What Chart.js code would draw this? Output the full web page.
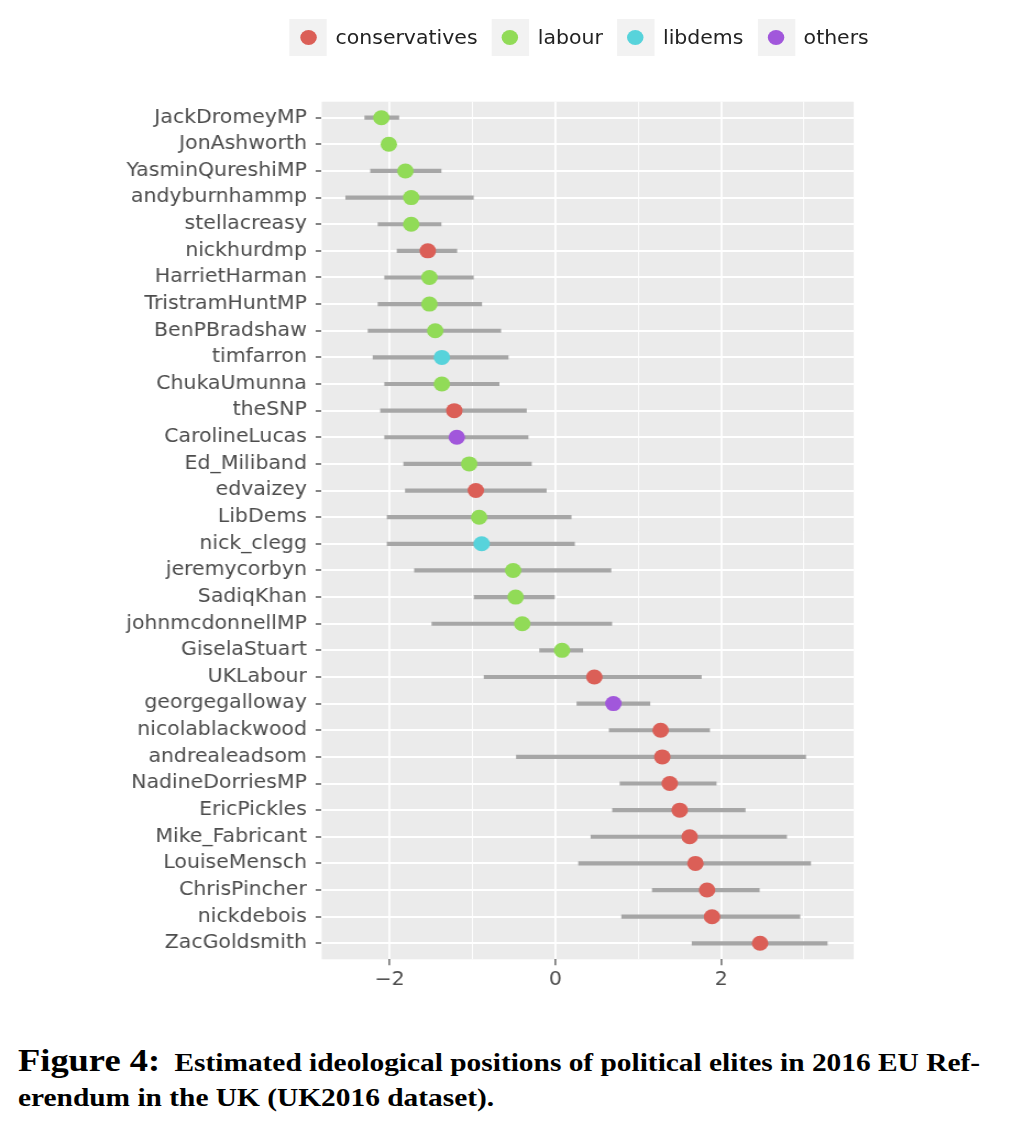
<!DOCTYPE html>
<html>
<head>
<meta charset="utf-8">
<script src="https://cdn.jsdelivr.net/npm/chart.js@4.4.1/dist/chart.umd.min.js"></script>
<style>
  html, body { margin: 0; padding: 0; background: #fff; }
  body { width: 1012px; height: 1141px; position: relative; overflow: hidden; }
  #stretch { position: absolute; left: 0; top: 0; width: 920px; height: 1010px; transform: scaleX(1.1); transform-origin: 0 0; }
  #chartBox { position: absolute; left: 0; top: 0; width: 920px; height: 1010px; }
  #legend { position: absolute; top: 19px; left: 263px; display: flex; align-items: center; font-family: 'DejaVu Sans', sans-serif; font-size: 18.6px; color: #222; }
  .key { width: 34px; height: 37px; background: #F2F2F2; display: flex; align-items: center; justify-content: center; margin-right: 8px; }
  .dot { width: 15px; height: 15px; border-radius: 50%; }
  .lab { margin-right: 12.7px; white-space: nowrap; }
  #cap { position: absolute; left: 18px; top: 1043px; font-family: 'Liberation Serif', serif; font-weight: bold; color: #000; }
  #cap div { white-space: nowrap; transform-origin: 0 0; line-height: 35px; font-size: 25px; }
  #cap .fig { font-size: 31px; margin-right: 6px; }
</style>
</head>
<body>
<div id="stretch">
  <div id="legend"></div>
  <div id="chartBox"><canvas id="c"></canvas></div>
</div>
<div id="cap">
  <div id="l1"><span class="fig">Figure 4:</span> Estimated ideological positions of political elites in 2016 EU Ref-</div>
  <div id="l2">erendum in the UK (UK2016 dataset).</div>
</div>
<script>
// ---- data ----
const names = ["JackDromeyMP","JonAshworth","YasminQureshiMP","andyburnhammp","stellacreasy","nickhurdmp","HarrietHarman","TristramHuntMP","BenPBradshaw","timfarron","ChukaUmunna","theSNP","CarolineLucas","Ed_Miliband","edvaizey","LibDems","nick_clegg","jeremycorbyn","SadiqKhan","johnmcdonnellMP","GiselaStuart","UKLabour","georgegalloway","nicolablackwood","andrealeadsom","NadineDorriesMP","EricPickles","Mike_Fabricant","LouiseMensch","ChrisPincher","nickdebois","ZacGoldsmith"];
const party = ["labour","labour","labour","labour","labour","conservatives","labour","labour","labour","libdems","labour","conservatives","others","labour","conservatives","labour","libdems","labour","labour","labour","labour","conservatives","others","conservatives","conservatives","conservatives","conservatives","conservatives","conservatives","conservatives","conservatives","conservatives"];
const estimate = [-2.10,-2.01,-1.81,-1.74,-1.74,-1.54,-1.52,-1.52,-1.45,-1.37,-1.37,-1.22,-1.19,-1.04,-0.96,-0.92,-0.89,-0.51,-0.48,-0.40,0.08,0.47,0.70,1.27,1.29,1.38,1.50,1.62,1.69,1.83,1.89,2.47];
const lower = [-2.30,-2.06,-2.23,-2.53,-2.14,-1.91,-2.06,-2.14,-2.26,-2.20,-2.06,-2.11,-2.06,-1.83,-1.81,-2.03,-2.03,-1.70,-0.98,-1.49,-0.19,-0.86,0.26,0.65,-0.47,0.78,0.69,0.43,0.28,1.17,0.80,1.65];
const upper = [-1.89,-1.96,-1.38,-0.99,-1.38,-1.19,-0.99,-0.89,-0.66,-0.57,-0.68,-0.35,-0.33,-0.29,-0.11,0.19,0.23,0.67,0.00,0.68,0.33,1.76,1.14,1.86,3.02,1.94,2.29,2.79,3.08,2.46,2.95,3.28];
const parties = ["conservatives","labour","libdems","others"];
const partyColors = ["#DB5F57","#91DB57","#57D3DB","#A157DB"];
const xTickValues = [-2,-1,0,1,2,3];
const xMajorTicks = [-2,0,2];

// ---- legend (HTML) ----
const leg = document.getElementById('legend');
parties.forEach((p, k) => {
  const key = document.createElement('div'); key.className = 'key';
  const dot = document.createElement('div'); dot.className = 'dot'; dot.style.background = partyColors[k];
  key.appendChild(dot);
  const lab = document.createElement('div'); lab.className = 'lab'; lab.textContent = p;
  leg.appendChild(key); leg.appendChild(lab);
});

// ---- chart ----
const FONT = { family: "'DejaVu Sans', sans-serif", size: 18.6 };
const bgPlugin = {
  id: 'panelBg',
  beforeDraw(chart) {
    const a = chart.chartArea, ctx = chart.ctx;
    ctx.save(); ctx.fillStyle = '#EBEBEB';
    ctx.fillRect(a.left, a.top, a.right - a.left, a.bottom - a.top);
    ctx.restore();
  }
};

const datasets = [{
  type: 'bar',
  label: 'interval',
  data: names.map((n, i) => ({ y: i, x: [lower[i], upper[i]] })),
  backgroundColor: '#A6A6A6',
  borderWidth: 0,
  barThickness: 3.5,
  order: 2
}];
parties.forEach((p, k) => {
  datasets.push({
    type: 'scatter',
    label: p,
    data: names.map((n, i) => i).filter(i => party[i] === p).map(i => ({ x: estimate[i], y: i })),
    backgroundColor: partyColors[k],
    borderWidth: 0,
    pointRadius: 7.5,
    pointHoverRadius: 7.5,
    order: 1
  });
});

new Chart(document.getElementById('c'), {
  type: 'bar',
  data: { datasets },
  plugins: [bgPlugin],
  options: {
    indexAxis: 'y',
    responsive: true,
    maintainAspectRatio: false,
    animation: false,
    layout: { padding: { top: 101.7, bottom: 5.7, left: 0, right: 143.9 } },
    plugins: { legend: { display: false }, tooltip: { enabled: false }, title: { display: false } },
    scales: {
      x: {
        type: 'linear',
        min: -2.82, max: 3.6,
        offset: false,
        afterFit: s => { s.height = 45; },
        afterBuildTicks: s => { s.ticks = xTickValues.map(v => ({ value: v })); },
        border: { display: false },
        grid: {
          offset: false,
          color: '#FFFFFF',
          lineWidth: c => (c.tick && xMajorTicks.includes(c.tick.value)) ? 1.8 : 0.9,
          drawTicks: true,
          tickLength: 6,
          tickWidth: 1.1,
          tickColor: c => (c.tick && xMajorTicks.includes(c.tick.value)) ? '#333333' : 'rgba(0,0,0,0)'
        },
        ticks: {
          autoSkip: false,
          maxRotation: 0,
          padding: 4,
          color: '#4D4D4D',
          font: FONT,
          callback: v => xMajorTicks.includes(v) ? (v < 0 ? '\u2212' + Math.abs(v) : String(v)) : ''
        }
      },
      y: {
        type: 'linear',
        reverse: true,
        min: -0.6, max: 31.6,
        offset: false,
        afterFit: s => { s.width = 292.45; },
        afterBuildTicks: s => { s.ticks = names.map((n, i) => ({ value: i })); },
        border: { display: false },
        grid: {
          offset: false,
          color: '#FFFFFF',
          lineWidth: 2,
          drawTicks: true,
          tickLength: 5.5,
          tickWidth: 1.2,
          tickColor: '#333333'
        },
        ticks: {
          autoSkip: false,
          padding: 8,
          color: '#4D4D4D',
          font: FONT,
          callback: v => names[v]
        }
      }
    }
  }
});

// ---- caption fit ----
const l1 = document.getElementById('l1'), l2 = document.getElementById('l2');
l1.style.display = 'inline-block'; l2.style.display = 'block';
const w = l1.getBoundingClientRect().width;
const s = 962 / w;
l1.style.display = 'block';
l1.style.transform = 'scaleX(' + s + ')';
l2.style.transform = 'scaleX(' + s + ')';
</script>
</body>
</html>
